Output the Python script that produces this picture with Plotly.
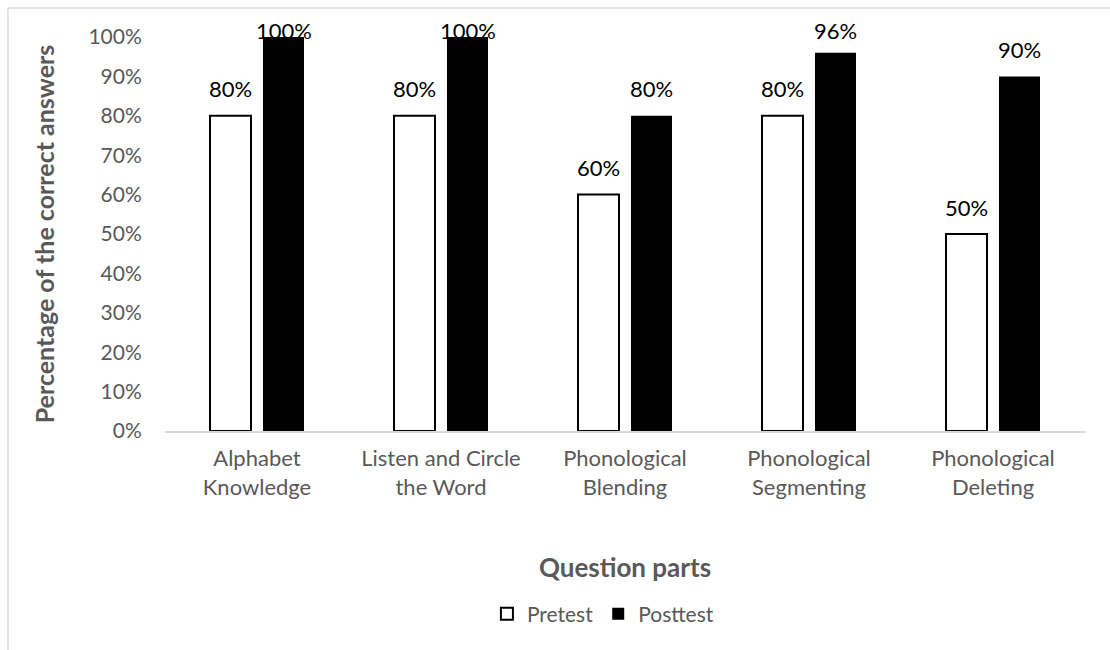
import plotly.graph_objects as go

categories = ["Alphabet<br>Knowledge", "Listen and Circle<br>the Word", "Phonological<br>Blending",
              "Phonological<br>Segmenting", "Phonological<br>Deleting"]
pretest = [0.80, 0.80, 0.60, 0.80, 0.50]
posttest = [1.00, 1.00, 0.80, 0.96, 0.90]
y_ticks = [0, 0.1, 0.2, 0.3, 0.4, 0.5, 0.6, 0.7, 0.8, 0.9, 1.0]
y_tick_labels = [f"{int(round(t*100))}%" for t in y_ticks]

FONT = "Lato, Calibri, Carlito, sans-serif"
GRAY = "#595959"

fig = go.Figure()
fig.add_trace(go.Bar(name="Pretest", x=categories, y=pretest,
                     marker=dict(color="white", line=dict(color="black", width=2))))
fig.add_trace(go.Bar(name="Posttest", x=categories, y=posttest,
                     marker=dict(color="black", line=dict(color="black", width=0))))

# data labels (Excel-style: above the bar, kept inside the chart area)
plot_h = 394.0
for series, shift in ((pretest, -26.5), (posttest, 26.5)):
    for c, v in zip(categories, series):
        top_px = v * plot_h
        ys = min(top_px + 27, 401) - top_px
        fig.add_annotation(x=c, y=v, text=f"{int(round(v*100))}%",
                           showarrow=False, xshift=shift, yshift=ys, yanchor="middle",
                           font=dict(family=FONT, size=22, color="black"))

# outer frame lines (chart border, partially cropped)
fig.add_shape(type="line", xref="paper", yref="paper", x0=-0.1707, x1=1.05, y0=1.0736, y1=1.0736,
              line=dict(color="#d9d9d9", width=1.5))
fig.add_shape(type="line", xref="paper", yref="paper", x0=-0.1707, x1=-0.1707, y0=1.0736, y1=-0.6,
              line=dict(color="#d9d9d9", width=1.5))

fig.update_layout(
    width=1110, height=650,
    margin=dict(l=165, r=25, t=37, b=219),
    paper_bgcolor="white", plot_bgcolor="white",
    barmode="group", bargap=0.424, bargroupgap=0.226,
    font=dict(family=FONT, color=GRAY),
    showlegend=True,
    legend=dict(orientation="h", x=0.476, xanchor="center", y=-0.465, yanchor="middle",
                font=dict(family=FONT, size=21, color=GRAY), itemwidth=30,
                tracegroupgap=0),
    xaxis=dict(showline=True, linecolor="#d9d9d9", linewidth=1.5, ticks="outside", ticklen=7,
               tickcolor="rgba(0,0,0,0)",
               tickfont=dict(family=FONT, size=22, color=GRAY),
               title=dict(text="<b>Question parts</b>", font=dict(family=FONT, size=26, color=GRAY),
                          standoff=60),
               showgrid=False),
    yaxis=dict(range=[0, 1.0], tickvals=y_ticks, ticktext=y_tick_labels,
               tickfont=dict(family=FONT, size=21, color=GRAY),
               showgrid=False, zeroline=False, showline=False,
               ticks="outside", ticklen=18, tickcolor="rgba(0,0,0,0)",
               title=dict(text="<b>Percentage of the correct answers</b>",
                          font=dict(family=FONT, size=25, color=GRAY), standoff=26)),
)

fig.write_html("out.html")
